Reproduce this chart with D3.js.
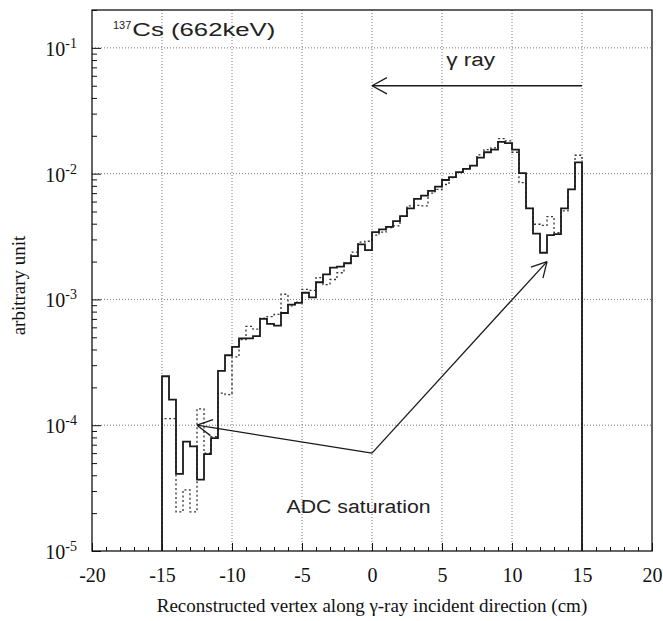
<!DOCTYPE html>
<html>
<head>
<meta charset="utf-8">
<script src="https://cdn.jsdelivr.net/npm/d3@7"></script>
<style>
  body { margin: 0; background: #fff; }
  svg { display: block; }
  .axis text { font-family: "Liberation Serif", "Times New Roman", serif; font-size: 20px; fill: #111; }
  .ylab { font-family: "Liberation Serif", "Times New Roman", serif; font-size: 20px; fill: #111; }
  .title { font-family: "Liberation Serif", "Times New Roman", serif; font-size: 19px; fill: #111; }
  .note { font-family: "Liberation Sans", Arial, sans-serif; font-size: 18px; fill: #222; }
</style>
</head>
<body>
<svg id="chart"></svg>
<script>
// bin low edges (cm), bin width 0.5
const binLow = [-15, -14.5, -14, -13.5, -13, -12.5, -12, -11.5, -11, -10.5,
  -10, -9.5, -9, -8.5, -8, -7.5, -7, -6.5, -6, -5.5,
  -5, -4.5, -4, -3.5, -3, -2.5, -2, -1.5, -1, -0.5,
  0, 0.5, 1, 1.5, 2, 2.5, 3, 3.5, 4, 4.5,
  5, 5.5, 6, 6.5, 7, 7.5, 8, 8.5, 9, 9.5,
  10, 10.5, 11, 11.5, 12, 12.5, 13, 13.5, 14, 14.5];
const binWidth = 0.5;

// solid histogram
const solidValues = [2.45e-4, 1.6e-4, 4.1e-5, 7.4e-5, 6.8e-5, 3.7e-5, 5.9e-5, 7.9e-5, 2.7e-4, 3.6e-4,
  4.2e-4, 4.9e-4, 4.9e-4, 5.1e-4, 7.0e-4, 6.4e-4, 6.2e-4, 7.8e-4, 9.1e-4, 9.4e-4,
  1.13e-3, 1.04e-3, 1.37e-3, 1.58e-3, 1.79e-3, 1.82e-3, 1.94e-3, 2.21e-3, 2.74e-3, 2.47e-3,
  3.43e-3, 3.61e-3, 3.77e-3, 4.2e-3, 4.6e-3, 5.3e-3, 6.3e-3, 6.7e-3, 7.3e-3, 7.9e-3,
  8.9e-3, 9.4e-3, 1.03e-2, 1.09e-2, 1.16e-2, 1.34e-2, 1.48e-2, 1.55e-2, 1.79e-2, 1.75e-2,
  1.55e-2, 1.01e-2, 5.3e-3, 3.33e-3, 2.35e-3, 3.24e-3, 3.3e-3, 5.3e-3, 7.5e-3, 1.23e-2];

// dotted histogram
const dottedValues = [1.13e-4, 1.13e-4, 2.05e-5, 3.06e-5, 2.05e-5, 1.35e-4, 6.0e-5, 8.1e-5, 1.8e-4, 1.75e-4,
  3.5e-4, 4.8e-4, 6.1e-4, 5.8e-4, 7.1e-4, 7.3e-4, 7.6e-4, 1.1e-3, 8.9e-4, 9.5e-4,
  1.2e-3, 1.18e-3, 1.49e-3, 1.31e-3, 1.44e-3, 1.63e-3, 1.95e-3, 2.38e-3, 2.86e-3, 2.9e-3,
  3.24e-3, 3.43e-3, 3.72e-3, 3.84e-3, 4.6e-3, 5.55e-3, 5.6e-3, 5.55e-3, 7.0e-3, 7.5e-3,
  8.2e-3, 9.3e-3, 1.02e-2, 1.09e-2, 1.16e-2, 1.41e-2, 1.55e-2, 1.6e-2, 1.9e-2, 1.82e-2,
  1.48e-2, 8.5e-3, 5.3e-3, 3.96e-3, 3.88e-3, 4.56e-3, 3.4e-3, 5.06e-3, 7.5e-3, 1.4e-2];

const xTicks = [-20, -15, -10, -5, 0, 5, 10, 15, 20];
const yTickExponents = [-5, -4, -3, -2, -1];
const xGrid = [-15, -10, -5, 0, 5, 10, 15];
const yGrid = [1e-4, 1e-3, 1e-2, 1e-1];

// annotations (data coordinates)
const gammaArrow = [[15, 0.05], [0, 0.05]];
const adcOrigin = [0, 6e-5];
const adcTargets = [[-12.5, 1e-4], [12.5, 2e-3]];

class VertexHistogram {
  constructor(_config) {
    this.config = {
      parentElement: _config.parentElement,
      containerWidth: _config.containerWidth || 663,
      containerHeight: _config.containerHeight || 621,
      margin: { top: 10, right: 11, bottom: 70, left: 92 }
    };
    this.initVis();
  }

  initVis() {
    let vis = this;
    vis.width = vis.config.containerWidth - vis.config.margin.left - vis.config.margin.right;
    vis.height = vis.config.containerHeight - vis.config.margin.top - vis.config.margin.bottom;

    vis.xScale = d3.scaleLinear().domain([-20, 20]).range([0, vis.width]);
    vis.yScale = d3.scaleLog().domain([1e-5, 0.2]).range([vis.height, 0]);

    vis.svg = d3.select(vis.config.parentElement)
      .attr('width', vis.config.containerWidth)
      .attr('height', vis.config.containerHeight);

    vis.chart = vis.svg.append('g')
      .attr('transform', `translate(${vis.config.margin.left},${vis.config.margin.top})`);

    // grid
    vis.chart.selectAll('.xgrid').data(xGrid).join('line')
      .attr('x1', d => vis.xScale(d)).attr('x2', d => vis.xScale(d))
      .attr('y1', 0).attr('y2', vis.height)
      .attr('stroke', '#555').attr('stroke-width', 0.8).attr('stroke-dasharray', '1,2');
    vis.chart.selectAll('.ygrid').data(yGrid).join('line')
      .attr('x1', 0).attr('x2', vis.width)
      .attr('y1', d => vis.yScale(d)).attr('y2', d => vis.yScale(d))
      .attr('stroke', '#555').attr('stroke-width', 0.8).attr('stroke-dasharray', '1,2');

    // x axis, ticks pointing inwards
    vis.xAxisG = vis.chart.append('g')
      .attr('class', 'axis x-axis')
      .attr('transform', `translate(0,${vis.height})`)
      .call(d3.axisBottom(vis.xScale).tickValues(xTicks).tickSize(-8).tickPadding(17).tickFormat(d => d));
    vis.chart.append('g')
      .attr('transform', `translate(0,${vis.height})`)
      .call(d3.axisBottom(vis.xScale).ticks(40).tickSize(-4).tickFormat(''));

    // y axis
    vis.chart.append('g')
      .call(d3.axisLeft(vis.yScale).tickValues(yTickExponents.map(e => Math.pow(10, e))).tickSize(-9).tickFormat(''));
    let minor = vis.yScale.ticks().filter(v => Math.abs(Math.log10(v) - Math.round(Math.log10(v))) > 1e-6);
    vis.chart.append('g')
      .call(d3.axisLeft(vis.yScale).tickValues(minor).tickSize(-5).tickFormat(''));
    vis.chart.selectAll('.domain').remove();
    vis.chart.selectAll('.tick line').attr('stroke', '#111');

    let ylab = vis.chart.selectAll('.ylab').data(yTickExponents).join('text')
      .attr('class', 'ylab')
      .attr('text-anchor', 'end')
      .attr('x', -15)
      .attr('y', d => vis.yScale(Math.pow(10, d)) + 8);
    ylab.append('tspan').text('10');
    ylab.append('tspan').attr('dy', -8).attr('font-size', 14).text(d => d);

    // frame
    vis.chart.append('rect')
      .attr('width', vis.width).attr('height', vis.height)
      .attr('fill', 'none').attr('stroke', '#111').attr('stroke-width', 1.3);

    // histograms
    vis.line = d3.line()
      .x(d => vis.xScale(d[0]))
      .y(d => vis.yScale(d[1]))
      .curve(d3.curveStepAfter);
    const ymin = vis.yScale.domain()[0];
    const toPoints = vals => [[binLow[0], ymin]]
      .concat(binLow.map((x, i) => [x, vals[i]]))
      .concat([[binLow[binLow.length - 1] + binWidth, ymin]]);

    vis.chart.append('path')
      .datum(toPoints(dottedValues))
      .attr('fill', 'none').attr('stroke', '#333').attr('stroke-width', 1.3)
      .attr('stroke-dasharray', '2,2.5')
      .attr('d', vis.line);
    vis.chart.append('path')
      .datum(toPoints(solidValues))
      .attr('fill', 'none').attr('stroke', '#1a1a1a').attr('stroke-width', 1.8)
      .attr('d', vis.line);

    // arrows
    vis.drawArrow(gammaArrow[0], gammaArrow[1]);
    adcTargets.forEach(t => vis.drawArrow(adcOrigin, t));

    // labels
    let cs = vis.chart.append('text').attr('class', 'note')
      .attr('x', vis.xScale(-18.5)).attr('y', vis.yScale(0.125));
    cs.append('tspan').attr('font-size', 11).attr('dy', -7).text('137');
    cs.append('tspan').attr('dy', 7).attr('dx', 1).text('Cs (662keV)')
      .attr('textLength', 143).attr('lengthAdjust', 'spacingAndGlyphs');

    vis.chart.append('text').attr('class', 'note')
      .attr('x', vis.xScale(5.3)).attr('y', vis.yScale(0.072))
      .attr('textLength', 49).attr('lengthAdjust', 'spacingAndGlyphs')
      .text('γ ray');

    vis.chart.append('text').attr('class', 'note')
      .attr('x', vis.xScale(-6.1)).attr('y', vis.yScale(2e-5))
      .attr('textLength', 144).attr('lengthAdjust', 'spacingAndGlyphs')
      .text('ADC saturation');

    vis.chart.append('text').attr('class', 'title')
      .attr('text-anchor', 'middle')
      .attr('x', vis.xScale(0)).attr('y', vis.height + 61)
      .text('Reconstructed vertex along γ-ray incident direction (cm)');

    vis.chart.append('text').attr('class', 'title')
      .attr('text-anchor', 'middle')
      .attr('transform', `translate(-67,${vis.height / 2 + 5})rotate(-90)`)
      .text('arbitrary unit');
  }

  drawArrow(from, to) {
    let vis = this;
    const x1 = vis.xScale(from[0]), y1 = vis.yScale(from[1]);
    const x2 = vis.xScale(to[0]), y2 = vis.yScale(to[1]);
    const ang = Math.atan2(y1 - y2, x1 - x2);
    const len = 17, spread = 0.5;
    const g = vis.chart.append('g').attr('stroke', '#1a1a1a').attr('stroke-width', 1.3).attr('fill', 'none');
    g.append('line').attr('x1', x1).attr('y1', y1).attr('x2', x2).attr('y2', y2);
    [-spread, spread].forEach(s => {
      g.append('line').attr('x1', x2).attr('y1', y2)
        .attr('x2', x2 + len * Math.cos(ang + s))
        .attr('y2', y2 + len * Math.sin(ang + s));
    });
  }
}

new VertexHistogram({ parentElement: '#chart', containerWidth: 663, containerHeight: 621 });
</script>
</body>
</html>
